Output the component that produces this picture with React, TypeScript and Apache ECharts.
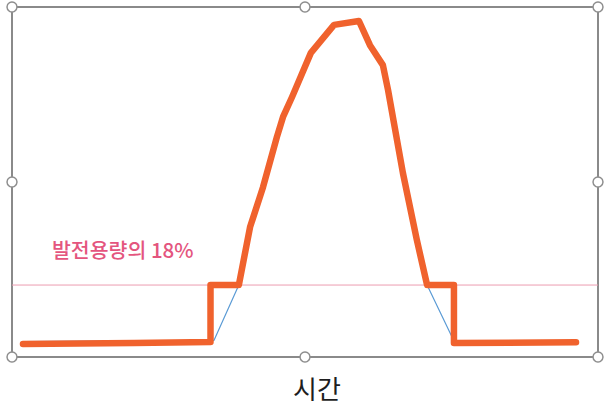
import React, { useEffect, useRef } from "react";
import * as echarts from "echarts";

// time (h) vs output (% of capacity)
const curtailedTime = [0.45, 5.0, 8.13, 8.13, 9.29, 9.75, 10.28, 10.85, 11.1, 11.47, 12.24, 13.19, 14.21, 14.66, 15.19, 15.4, 16.01, 16.58, 17.0, 18.1, 18.1, 23.1];
const curtailedValue = [-0.3, 0, 0.3, 18, 18, 36, 48.4, 64, 70.2, 76.4, 90.1, 98.8, 100, 92.5, 86.3, 78.6, 52.8, 32, 18, 18, 0, 0.2];

const rawTime = [0.45, 8.27, 9.29, 9.75, 10.28, 10.85, 11.1, 11.47, 12.24, 13.19, 14.21, 14.66, 15.19, 15.4, 16.01, 16.58, 17.0, 18.1, 23.1];
const rawValue = [0.4, 0.8, 18, 36, 48.4, 64, 70.2, 76.4, 90.1, 98.8, 100, 92.5, 86.3, 78.6, 52.8, 32, 18, 0.6, 0.6];

const thresholdTime = [0, 24];
const thresholdValue = [18, 18];

const thresholdLabel = "발전용량의 18%";
const xAxisName = "시간";

const pair = (xs: number[], ys: number[]) => xs.map((x, i) => [x, ys[i]]);

export default function App() {
  const ref = useRef<HTMLDivElement>(null);
  useEffect(() => {
    if (!ref.current) return;
    const chart = echarts.init(ref.current, null, { renderer: "svg" });
    const handles = [
      [12, 7], [305, 7], [598, 7],
      [12, 182], [598, 182],
      [12, 357], [305, 357], [598, 357],
    ];
    chart.setOption({
      animation: false,
      backgroundColor: "#ffffff",
      grid: {
        left: 12, right: 7, top: 7, bottom: 48,
        show: true, borderColor: "#8a8a8a", borderWidth: 2, backgroundColor: "transparent",
      },
      xAxis: {
        type: "value", min: 0, max: 24,
        axisLine: { show: false }, axisTick: { show: false },
        axisLabel: { show: false }, splitLine: { show: false },
      },
      yAxis: {
        type: "value", min: -4.35, max: 104.35,
        axisLine: { show: false }, axisTick: { show: false },
        axisLabel: { show: false }, splitLine: { show: false },
      },
      series: [
        {
          type: "line", data: pair(thresholdTime, thresholdValue), symbol: "none",
          lineStyle: { color: "#ec9cb0", width: 1 }, z: 1,
        },
        {
          type: "line", data: pair(rawTime, rawValue), symbol: "none",
          lineStyle: { color: "#5b9bd5", width: 1.2 }, z: 2,
        },
        {
          type: "line", data: pair(curtailedTime, curtailedValue), symbol: "none",
          lineStyle: { color: "#f0622d", width: 6.5, cap: "round", join: "round" }, z: 3,
        },
      ],
      graphic: [
        {
          type: "text", left: 52, top: 239,
          style: {
            text: thresholdLabel, fill: "#e4557e", fontSize: 20.5,
            fontFamily: "Noto Sans CJK KR", fontWeight: 500,
          },
          z: 10,
        },
        {
          type: "text", left: 293, top: 374,
          style: {
            text: xAxisName, fill: "#1e1e1e", fontSize: 26,
            fontFamily: "Noto Sans CJK KR",
          },
          z: 10,
        },
        ...handles.map(([cx, cy]) => ({
          type: "circle",
          shape: { cx, cy, r: 5 },
          style: { fill: "#ffffff", stroke: "#8f8f8f", lineWidth: 1.5 },
          z: 20,
        })),
      ],
    });
    return () => chart.dispose();
  }, []);
  return <div ref={ref} style={{ width: 605, height: 405, position: "absolute", left: 0, top: 0 }} />;
}
